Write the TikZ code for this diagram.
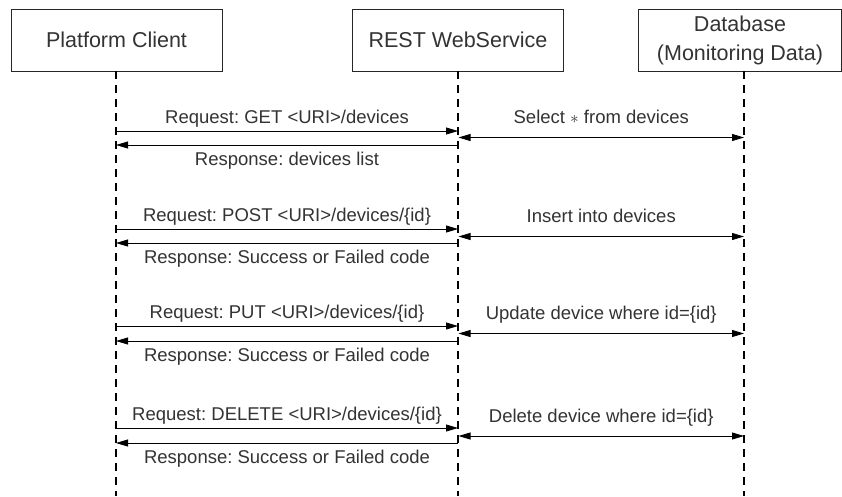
\documentclass[tikz,border=0pt]{standalone}
\usepackage{fontspec}
\setmainfont{Liberation Sans}
\usetikzlibrary{arrows.meta}
\definecolor{txt}{HTML}{333333}
\frenchspacing
\begin{document}
\begin{tikzpicture}[x=1pt,y=-1pt,
  actor/.style={draw=black!85, line width=0.8pt, minimum width=211pt, minimum height=62pt,
    inner sep=0pt, font=\fontsize{21.5}{29}\selectfont, text=txt, align=center},
  lifeline/.style={line width=1.8pt, dash pattern=on 8pt off 6pt},
  msg/.style={line width=0.8pt, -{Triangle[length=12pt,width=7pt]}},
  dbmsg/.style={line width=0.8pt, {Triangle[length=12pt,width=7pt]}-{Triangle[length=12pt,width=7pt]}},
  lbl/.style={font=\fontsize{18.5}{22}\selectfont, text=txt, inner sep=0pt, anchor=base}]
\useasboundingbox (0,0) rectangle (842,496);
\fill[white] (0,0) rectangle (842,496);
% actors
\node[actor] (pc) at (116.5,40) {Platform Client};
\node[actor] (rest) at (458,40) {REST WebService};
\node[actor, minimum width=203pt] (db) at (740,40) {Database\\(Monitoring Data)};
% lifeline ends
\coordinate (pcEnd) at (116,496);
\coordinate (restEnd) at (458,496);
\coordinate (dbEnd) at (744,496);
\draw[lifeline] (pc.south -| pcEnd) -- (pcEnd);
\draw[lifeline] (rest.south -| restEnd) -- (restEnd);
\draw[lifeline] (db.south -| dbEnd) -- (dbEnd);
% message anchor points
\foreach \i/\yr/\yd/\ys in {1/131/137.5/145, 2/229/236.5/243, 3/326/333.5/341, 4/428/436/443} {
  \coordinate (pcR\i) at (116,\yr);
  \coordinate (restR\i) at (458,\yr);
  \coordinate (restD\i) at (458.5,\yd);
  \coordinate (dbD\i) at (744,\yd);
  \coordinate (restS\i) at (458,\ys);
  \coordinate (pcS\i) at (116,\ys);
}
% group 1
\draw[msg] (pcR1) -- node[lbl, yshift=7.5pt] {Request: GET <URI>/devices} (restR1);
\draw[dbmsg] (restD1) -- node[lbl, yshift=14pt] {Select $\ast$ from devices} (dbD1);
\draw[msg] (restS1) -- node[lbl, yshift=-20pt] {Response: devices list} (pcS1);
% group 2
\draw[msg] (pcR2) -- node[lbl, yshift=7.5pt] {Request: POST <URI>/devices/\{id\}} (restR2);
\draw[dbmsg] (restD2) -- node[lbl, yshift=14pt] {Insert into devices} (dbD2);
\draw[msg] (restS2) -- node[lbl, yshift=-20pt] {Response: Success or Failed code} (pcS2);
% group 3
\draw[msg] (pcR3) -- node[lbl, yshift=7.5pt] {Request: PUT <URI>/devices/\{id\}} (restR3);
\draw[dbmsg] (restD3) -- node[lbl, yshift=14pt] {Update device where id=\{id\}} (dbD3);
\draw[msg] (restS3) -- node[lbl, yshift=-20pt] {Response: Success or Failed code} (pcS3);
% group 4
\draw[msg] (pcR4) -- node[lbl, yshift=7.5pt] {Request: DELETE <URI>/devices/\{id\}} (restR4);
\draw[dbmsg] (restD4) -- node[lbl, yshift=14pt] {Delete device where id=\{id\}} (dbD4);
\draw[msg] (restS4) -- node[lbl, yshift=-20pt] {Response: Success or Failed code} (pcS4);
\end{tikzpicture}
\end{document}
